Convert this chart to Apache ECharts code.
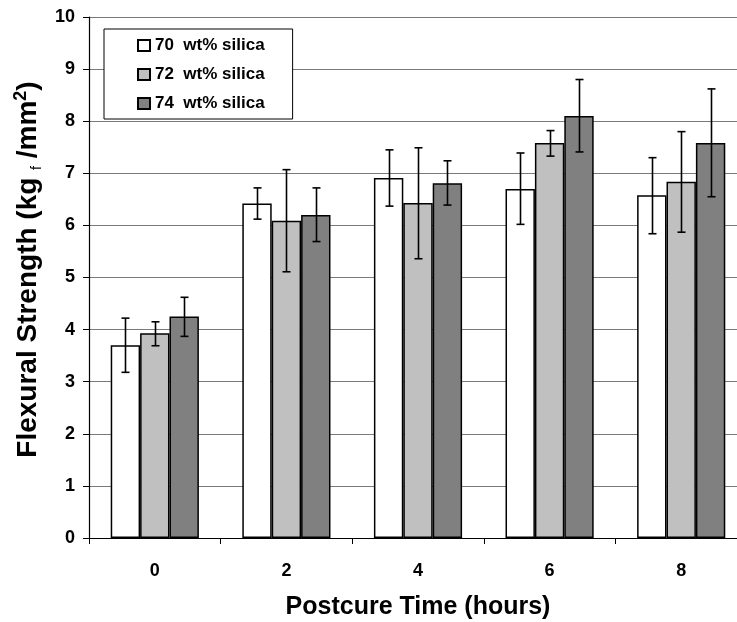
<!DOCTYPE html>
<html>
<head>
<meta charset="utf-8">
<script src="https://cdn.jsdelivr.net/npm/echarts@6/dist/echarts.min.js"></script>
<style>
html,body{margin:0;padding:0;background:#fff;}
#chart{width:737px;height:622px;}
</style>
</head>
<body>
<div id="chart"></div>
<script>
// ---- data ----
var categories = ['0', '2', '4', '6', '8'];
var seriesNames = ['70  wt% silica', '72  wt% silica', '74  wt% silica'];
var s70 = [3.70, 6.42, 6.91, 6.70, 6.58];
var s72 = [3.93, 6.09, 6.43, 7.58, 6.84];
var s74 = [4.25, 6.20, 6.81, 8.10, 7.58];
var s70Hi = [4.22, 6.72, 7.45, 7.39, 7.30];
var s70Lo = [3.18, 6.12, 6.37, 6.02, 5.84];
var s72Hi = [4.15, 7.07, 7.49, 7.82, 7.80];
var s72Lo = [3.69, 5.11, 5.36, 7.33, 5.87];
var s74Hi = [4.62, 6.72, 7.24, 8.80, 8.62];
var s74Lo = [3.87, 5.69, 6.39, 7.41, 6.55];
var yTicks = [0, 1, 2, 3, 4, 5, 6, 7, 8, 9, 10];

var FONT = '"Liberation Sans", Arial, Helvetica, sans-serif';
var colors = ['#ffffff', '#c0c0c0', '#808080'];
var values = [s70, s72, s74];
var highs = [s70Hi, s72Hi, s74Hi];
var lows = [s70Lo, s72Lo, s74Lo];
var GAP = 0.33;

function errData(k) {
  return categories.map(function (c, i) { return [i, highs[k][i], lows[k][i]]; });
}
function makeErr(k) {
  return {
    type: 'custom',
    name: 'err' + k,
    z: 5,
    silent: true,
    data: errData(k),
    encode: { x: 0, y: [1, 2] },
    renderItem: function (params, api) {
      var idx = api.value(0);
      var pHi = api.coord([idx, api.value(1)]);
      var pLo = api.coord([idx, api.value(2)]);
      var band = api.size([1, 0])[0];
      var bw = band * (1 - GAP) / 3;
      var x = Math.round(pHi[0] + (k - 1) * bw) + 0.5;
      var cap = 4;
      var st = { stroke: '#000', lineWidth: 1.6 };
      return {
        type: 'group',
        children: [
          { type: 'line', shape: { x1: x, y1: pHi[1], x2: x, y2: pLo[1] }, style: st },
          { type: 'line', shape: { x1: x - cap, y1: pHi[1], x2: x + cap, y2: pHi[1] }, style: st },
          { type: 'line', shape: { x1: x - cap, y1: pLo[1], x2: x + cap, y2: pLo[1] }, style: st }
        ]
      };
    }
  };
}

var series = [];
for (var k = 0; k < 3; k++) {
  series.push({
    type: 'bar',
    name: seriesNames[k],
    data: values[k],
    barGap: '0%',
    barCategoryGap: (GAP * 100) + '%',
    itemStyle: { color: colors[k], borderColor: '#000', borderWidth: 1.5 },
    z: 2
  });
}
for (var k2 = 0; k2 < 3; k2++) series.push(makeErr(k2));

var chart = echarts.init(document.getElementById('chart'), null, { renderer: 'canvas' });
chart.setOption({
  animation: false,
  backgroundColor: '#fff',
  textStyle: { fontFamily: FONT },
  grid: { left: 89, top: 17, height: 521, width: 658, containLabel: false, outerBoundsMode: 'none' },
  legend: {
    data: seriesNames,
    orient: 'vertical',
    left: 104,
    top: 29,
    itemWidth: 12,
    itemHeight: 11,
    itemGap: 12,
    padding: [8, 28, 7, 33],
    backgroundColor: '#fff',
    borderColor: '#000',
    borderWidth: 1,
    icon: 'rect',
    textStyle: { fontFamily: FONT, fontWeight: 'bold', fontSize: 17, color: '#000' }
  },
  xAxis: {
    type: 'category',
    data: categories,
    name: 'Postcure Time (hours)',
    nameLocation: 'middle',
    nameGap: 57,
    nameTextStyle: { fontFamily: FONT, fontWeight: 'bold', fontSize: 25, color: '#000' },
    axisLine: { lineStyle: { color: '#000', width: 1.2 } },
    axisTick: { show: true, alignWithLabel: false, length: 6, lineStyle: { color: '#000' } },
    axisLabel: { fontFamily: FONT, fontWeight: 'bold', fontSize: 18, color: '#000', margin: 24 },
    splitLine: { show: false }
  },
  yAxis: {
    type: 'value',
    min: 0,
    max: 10,
    interval: 1,
    name: 'Flexural Strength (kg {sub|f} /mm{sup|2})',
    nameLocation: 'middle',
    nameGap: 35,
    nameRotate: 90,
    nameTextStyle: {
      fontFamily: FONT, fontWeight: 'bold', fontSize: 28, color: '#000', lineHeight: 32,
      padding: [0, 0, 0, 16],
      rich: {
        sub: { fontFamily: FONT, fontWeight: 'normal', fontSize: 14, color: '#000', verticalAlign: 'bottom', lineHeight: 32 },
        sup: { fontFamily: FONT, fontWeight: 'bold', fontSize: 18, color: '#000', verticalAlign: 'top', lineHeight: 18 }
      }
    },
    axisLine: { show: true, lineStyle: { color: '#000', width: 1.2 } },
    axisTick: { show: true, length: 6, lineStyle: { color: '#000' } },
    axisLabel: {
      fontFamily: FONT, fontWeight: 'bold', fontSize: 18, color: '#000', margin: 14,
      formatter: function (v) { return yTicks.indexOf(v) >= 0 ? String(v) : ''; }
    },
    splitLine: { show: true, lineStyle: { color: '#7a7a7a', width: 1.2 } }
  },
  series: series
});
</script>
</body>
</html>
